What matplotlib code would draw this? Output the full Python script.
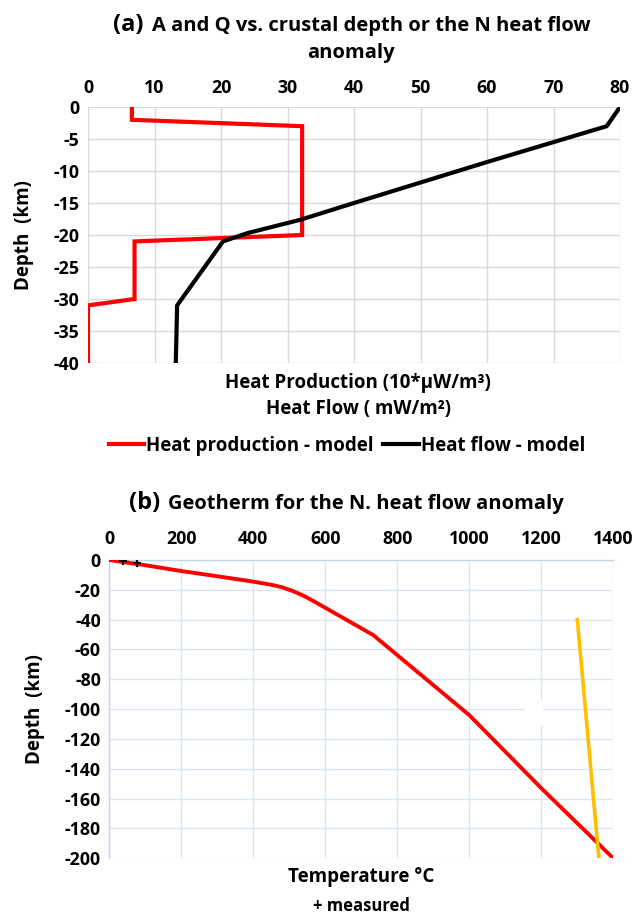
import matplotlib
matplotlib.use("Agg")
import matplotlib.pyplot as plt
from matplotlib.patches import Rectangle

# ---------------- data ----------------
# Panel (a)
hp_value = [6.6, 6.6, 32.2, 32.2, 7.0, 7.0, 0.0, 0.0]
hp_depth = [0, -2, -3, -20, -21, -30, -31, -40]
hf_value = [80, 78, 60, 40, 32, 24, 20.3, 13.4, 13.2]
hf_depth = [0, -3, -8.6, -15, -17.6, -19.7, -21, -31, -40]
a_xticks = [0, 10, 20, 30, 40, 50, 60, 70, 80]
a_yticks = [0, -5, -10, -15, -20, -25, -30, -35, -40]

# Panel (b)
geo_temp = [0, 100, 200, 300, 400, 450, 480, 510, 540, 567, 733, 1000, 1200, 1400]
geo_depth = [0, -3.5, -7.4, -10.9, -14.5, -16.6, -18.3, -20.8, -24.0, -27.5, -50.3, -104, -153, -200]
meas_temp = [39, 76]
meas_depth = [-1.0, -2.0]
adiabat_temp = [1300, 1360]
adiabat_depth = [-40, -200]
b_xticks = [0, 200, 400, 600, 800, 1000, 1200, 1400]
b_yticks = [0, -20, -40, -60, -80, -100, -120, -140, -160, -180, -200]

# ---------------- figure ----------------
W, H = 644, 917
plt.rcParams['font.family'] = ['Open Sans', 'DejaVu Sans']
plt.rcParams['axes.unicode_minus'] = False
fig = plt.figure(figsize=(W / 100, H / 100), dpi=100)


def fy(y):
    return 1 - y / H


def fx(x):
    return x / W


tick_fs = 12.8
lab_fs = 13.5
title_fs = 14.5

# ---- panel (a) ----
axa = fig.add_axes([fx(88), fy(363), fx(620) - fx(88), fy(107) - fy(363)])
axa.plot(hp_value, hp_depth, color='#FF0000', lw=3.0, solid_joinstyle='miter',
         label='Heat production - model', zorder=3)
axa.plot(hf_value, hf_depth, color='black', lw=3.0, label='Heat flow - model', zorder=3)
axa.set_xlim(0, 80)
axa.set_ylim(-40, 0)
axa.set_xticks(a_xticks)
axa.set_yticks(a_yticks)
axa.xaxis.tick_top()
axa.tick_params(length=0, labelsize=tick_fs)
axa.tick_params(axis='x', pad=7)
axa.tick_params(axis='y', pad=6)
for lab in axa.get_xticklabels() + axa.get_yticklabels():
    lab.set_fontweight('bold')
axa.grid(True, color='#D9D9D9', lw=1.0)
axa.set_axisbelow(True)
for s in axa.spines.values():
    s.set_visible(False)
axa.set_ylabel('Depth  (km)', fontsize=lab_fs, fontweight='bold')
axa.yaxis.set_label_coords(-0.1015, 0.5)

# title (a)
fig.text(fx(144), fy(25), '(a)', fontsize=17, fontweight='bold', ha='right', va='center')
fig.text(fx(152), fy(26), 'A and Q vs. crustal depth or the N heat flow',
         fontsize=title_fs, fontweight='bold', ha='left', va='center')
fig.text(fx(351), fy(53), 'anomaly', fontsize=title_fs, fontweight='bold', ha='center', va='center')

# x label (a)
fig.text(fx(358), fy(383), 'Heat Production (10*\u03bcW/m\u00b3)', fontsize=lab_fs,
         fontweight='bold', ha='center', va='center')
fig.text(fx(358), fy(409), 'Heat Flow ( mW/m\u00b2)', fontsize=lab_fs,
         fontweight='bold', ha='center', va='center')

h, l = axa.get_legend_handles_labels()
leg = fig.legend(h, l, loc='center', bbox_to_anchor=(fx(347), fy(446)), ncol=2,
                 frameon=False, handlelength=1.9, handletextpad=0.1, columnspacing=0.5,
                 prop={'weight': 'bold', 'size': lab_fs})

# ---- panel (b) ----
axb = fig.add_axes([fx(109.3), fy(858.3), fx(613.3) - fx(109.3), fy(560) - fy(858.3)])
axb.plot(geo_temp, geo_depth, color='#FF0000', lw=2.8, zorder=3)
axb.plot(adiabat_temp, adiabat_depth, color='#FFC000', lw=2.6, zorder=4)
axb.plot(meas_temp, meas_depth, linestyle='none', marker='+', color='black',
         markersize=6, markeredgewidth=1.6, zorder=5)
axb.set_xlim(0, 1400)
axb.set_ylim(-200, 0)
axb.set_xticks(b_xticks)
axb.set_yticks(b_yticks)
axb.xaxis.tick_top()
axb.tick_params(length=0, labelsize=tick_fs)
axb.tick_params(axis='x', pad=9)
axb.tick_params(axis='y', pad=6)
for lab in axb.get_xticklabels() + axb.get_yticklabels():
    lab.set_fontweight('bold')
axb.grid(True, color='#DCE6F2', lw=1.0)
axb.set_axisbelow(True)
for side, s in axb.spines.items():
    if side in ('left', 'top'):
        s.set_color('#C5D5EA')
        s.set_linewidth(1.0)
    else:
        s.set_visible(False)
# small white patch interrupting the grid (as in the reference)
axb.add_patch(Rectangle((1154, -111), 50, 17, facecolor='white', edgecolor='none', zorder=1.5))
axb.set_ylabel('Depth  (km)', fontsize=lab_fs, fontweight='bold')
axb.yaxis.set_label_coords(-0.1276, 0.5)

fig.text(fx(160), fy(503), '(b)', fontsize=17, fontweight='bold', ha='right', va='center')
fig.text(fx(168), fy(504), 'Geotherm for the N. heat flow anomaly',
         fontsize=title_fs, fontweight='bold', ha='left', va='center')

fig.text(fx(361), fy(877), 'Temperature \u00b0C', fontsize=lab_fs, fontweight='bold',
         ha='center', va='center')
fig.text(fx(361), fy(906), '+ measured', fontsize=12, fontweight='bold',
         ha='center', va='center')

fig.savefig('out.png', dpi=100)
